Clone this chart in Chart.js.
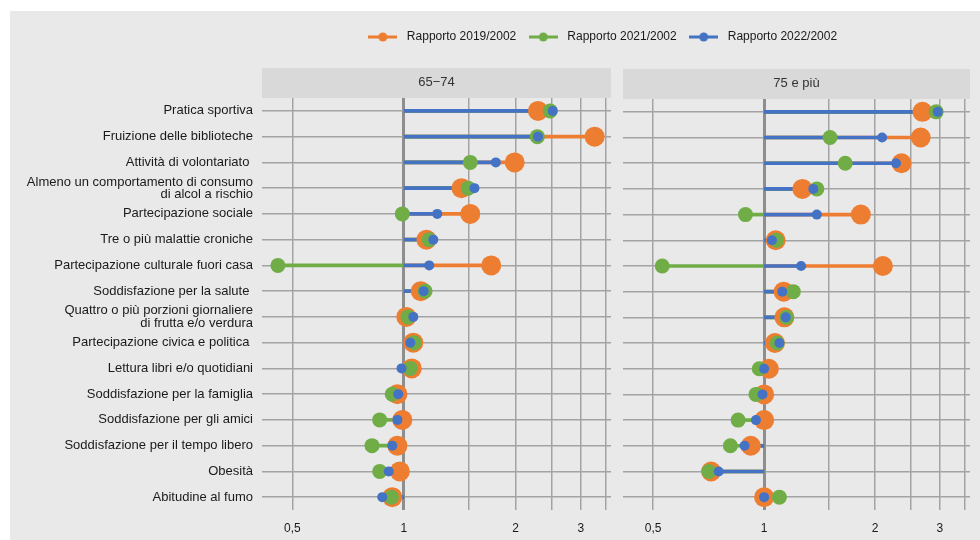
<!DOCTYPE html>
<html lang="it">
<head>
<meta charset="utf-8">
<title>Rapporti 2019, 2021, 2022 su 2002</title>
<script src="https://cdn.jsdelivr.net/npm/chart.js@4.4.1/dist/chart.umd.min.js"></script>
<style>
  body { margin: 0; background: #fff; }
  #contenitore { position: relative; width: 980px; height: 540px; overflow: hidden; }
  #sfondo { position: absolute; left: 10px; top: 11px; width: 970px; height: 529px; background: #e9e9e9; }
  canvas { position: absolute; left: 0; top: 0; }
</style>
</head>
<body>
<div id="contenitore">
  <div id="sfondo"></div>
  <canvas id="grafico6574" width="980" height="540"></canvas>
  <canvas id="grafico75" width="980" height="540"></canvas>
</div>
<script>
const categorie = [
  "Pratica sportiva",
  "Fruizione delle biblioteche",
  "Attività di volontariato ",
  ["Almeno un comportamento di consumo", "di alcol a rischio"],
  "Partecipazione sociale",
  "Tre o più malattie croniche",
  "Partecipazione culturale fuori casa",
  "Soddisfazione per la salute ",
  ["Quattro o più porzioni giornaliere", "di frutta e/o verdura"],
  "Partecipazione civica e politica ",
  "Lettura libri e/o quotidiani",
  "Soddisfazione per la famiglia",
  "Soddisfazione per gli amici",
  "Soddisfazione per il tempo libero",
  "Obesità",
  "Abitudine al fumo"
];

const serie = ["Rapporto 2019/2002", "Rapporto 2021/2002", "Rapporto 2022/2002"];
const colori = ["#ed7d31", "#70ad47", "#4472c4"];

// 65-74 anni
const r2019_6574 = [2.30, 3.27, 1.99, 1.43, 1.51, 1.15, 1.72, 1.11, 1.015, 1.06, 1.05, 0.96, 0.99, 0.96, 0.975, 0.93];
const r2021_6574 = [2.48, 2.29, 1.51, 1.49, 0.99, 1.17, 0.457, 1.14, 1.025, 1.065, 1.04, 0.93, 0.86, 0.82, 0.86, 0.925];
const r2022_6574 = [2.52, 2.30, 1.77, 1.55, 1.23, 1.20, 1.17, 1.13, 1.06, 1.04, 0.985, 0.965, 0.96, 0.93, 0.91, 0.874];

// 75 e più
const r2019_75 = [2.69, 2.66, 2.36, 1.27, 1.83, 1.075, 2.10, 1.13, 1.135, 1.07, 1.03, 1.00, 1.00, 0.92, 0.718, 1.00];
const r2021_75 = [2.93, 1.51, 1.66, 1.39, 0.89, 1.08, 0.529, 1.20, 1.15, 1.085, 0.97, 0.95, 0.85, 0.81, 0.708, 1.10];
const r2022_75 = [2.96, 2.09, 2.28, 1.36, 1.39, 1.05, 1.26, 1.12, 1.145, 1.10, 1.00, 0.99, 0.95, 0.885, 0.753, 1.00];

const tickEtichette = [0.5, 1, 2, 3];
const tickGriglia = [0.5, 1, 1.5, 2, 2.5, 3, 3.5];

Chart.defaults.font.family = "'Liberation Sans', Arial, Helvetica, sans-serif";
Chart.defaults.color = "#1a1a1a";

// simbolo legenda: linea con cerchio
const creaIcona = colore => {
  const c = document.createElement("canvas");
  c.width = 29;
  c.height = 10;
  const ctx = c.getContext("2d");
  ctx.fillStyle = colore;
  ctx.fillRect(0, 3.5, 29, 3);
  ctx.beginPath();
  ctx.arc(14.5, 5, 4.5, 0, Math.PI * 2);
  ctx.fill();
  return c;
};
const icone = colori.map(creaIcona);

const creaDataset = (v19, v21, v22) => {
  const valori = [v19, v21, v22];
  const raggi = [10, 7.5, 5];
  const punti = valori.map((dati, i) => ({
    type: "line",
    label: serie[i],
    data: dati,
    showLine: false,
    pointRadius: raggi[i],
    pointHoverRadius: raggi[i],
    pointBorderWidth: 0,
    backgroundColor: colori[i],
    borderColor: colori[i],
    order: 3 - i
  }));
  const barre = valori.map((dati, i) => ({
    type: "bar",
    label: "",
    data: dati.map(v => [1, v]),
    backgroundColor: colori[i],
    barThickness: 3,
    grouped: false,
    order: 6 - i
  }));
  return punti.concat(barre);
};

const assi = (titolo, larghezzaY, mostraEtichette) => ({
  x: {
    type: "logarithmic",
    position: "bottom",
    min: 0.414,
    max: 3.62,
    afterBuildTicks: s => { s.ticks = tickGriglia.map(v => ({ value: v })); },
    afterFit: s => { s.height = 26; },
    ticks: {
      autoSkip: false,
      maxRotation: 0,
      padding: 11,
      font: { size: 12 },
      callback: v => tickEtichette.includes(v) ? String(v).replace(".", ",") : ""
    },
    grid: {
      drawTicks: false,
      color: c => c.tick && c.tick.value === 1 ? "#8e8e8e" : "#a3a3a3",
      lineWidth: c => c.tick && c.tick.value === 1 ? 3 : 1.5
    },
    border: { display: false }
  },
  xt: {
    type: "linear",
    axis: "x",
    position: "top",
    weight: 0,
    backgroundColor: "#d9d9d9",
    afterFit: s => { s.height = 30; },
    grid: { display: false, drawTicks: false },
    border: { display: false },
    ticks: { display: false },
    title: { display: true, text: titolo, color: "#333", font: { size: 13 }, padding: { top: 7, bottom: 7 } }
  },
  y: {
    type: "category",
    position: "left",
    offset: true,
    afterFit: s => { s.width = larghezzaY; },
    ticks: { display: mostraEtichette, autoSkip: false, padding: 9, font: { size: 13, lineHeight: 0.95 } },
    grid: { offset: false, drawTicks: false, color: "#a3a3a3", lineWidth: 1.5 },
    border: { display: false }
  }
});

// pannello 65-74
new Chart(document.getElementById("grafico6574"), {
  type: "bar",
  data: { labels: categorie, datasets: creaDataset(r2019_6574, r2021_6574, r2022_6574) },
  options: {
    responsive: false,
    animation: false,
    events: [],
    indexAxis: "y",
    layout: { padding: { top: 68, right: 369, bottom: 4, left: 0 } },
    plugins: { legend: { display: false }, tooltip: { enabled: false } },
    scales: assi("65−74", 262, true)
  }
});

// pannello 75 e più, con la legenda
const assi75 = assi("75 e più", 393, false);
assi75.xgap = {
  type: "linear",
  axis: "x",
  position: "top",
  weight: 1,
  grid: { display: false, drawTicks: false },
  border: { display: false },
  ticks: { display: false },
  afterFit: s => { s.height = 16; }
};

new Chart(document.getElementById("grafico75"), {
  type: "bar",
  data: { labels: categorie, datasets: creaDataset(r2019_75, r2021_75, r2022_75) },
  options: {
    responsive: false,
    animation: false,
    events: [],
    indexAxis: "y",
    layout: { padding: { top: 22, right: 8, bottom: 4, left: 230 } },
    plugins: {
      tooltip: { enabled: false },
      legend: {
        position: "top",
        reverse: true,
        labels: {
          usePointStyle: true,
          pointStyleWidth: 36,
          padding: 9,
          font: { size: 12 },
          color: "#1a1a1a",
          filter: item => item.text !== "",
          generateLabels: chart => Chart.defaults.plugins.legend.labels.generateLabels(chart)
            .map(item => ({ ...item, pointStyle: icone[item.datasetIndex] || item.pointStyle }))
        }
      }
    },
    scales: assi75
  }
});
</script>
</body>
</html>
